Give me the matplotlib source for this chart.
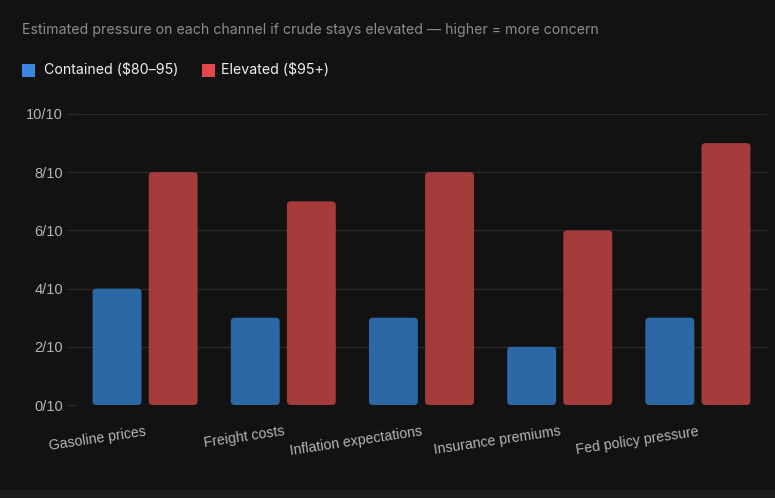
import matplotlib
matplotlib.use("Agg")
import matplotlib.pyplot as plt
from matplotlib.patches import FancyBboxPatch, Rectangle
from matplotlib.transforms import IdentityTransform
import numpy as np

# data
categories = ["Gasoline prices", "Freight costs", "Inflation expectations",
              "Insurance premiums", "Fed policy pressure"]
contained = [4, 3, 3, 2, 3]
elevated = [8, 7, 8, 6, 9]
y_ticks = [0, 2, 4, 6, 8, 10]
y_labels = [f"{v}/10" for v in y_ticks]

BG = "#121212"
OUTER = "#1d1d1d"
GRID = "#2a2a2a"
BLUE_BAR = "#2c68a6"
RED_BAR = "#a63b3c"
BLUE_KEY = "#3b86e0"
RED_KEY = "#e2484a"

W, H = 775, 498
fig = plt.figure(figsize=(W / 100, H / 100), dpi=100)
fig.patch.set_facecolor(OUTER)

# card background with rounded corners
card = FancyBboxPatch((-20, 8), W + 40, H, boxstyle="round,pad=0,rounding_size=10",
                      transform=IdentityTransform(), facecolor=BG, edgecolor="none",
                      zorder=-10)
fig.patches.append(card)

ax = fig.add_axes([76 / W, 1 - 405 / H, (767 - 76) / W, (405 - 114) / H])
ax.set_facecolor("none")

x = np.arange(len(categories))
bw = 0.354
off = 0.203
bars_b = ax.bar(x - off, contained, bw, color=BLUE_BAR, zorder=3)
bars_r = ax.bar(x + off, elevated, bw, color=RED_BAR, zorder=3)

ax.set_xlim(-0.5, len(categories) - 0.5)
ax.set_ylim(0, 10)

# swap plain bars for rounded ones
px_x = (767 - 76) / len(categories)
px_y = (405 - 114) / 10
aspect = px_x / px_y
for b in list(bars_b) + list(bars_r):
    fb = FancyBboxPatch((b.get_x(), b.get_y()), b.get_width(), b.get_height(),
                        boxstyle=f"round,pad=0,rounding_size={4 / px_x}",
                        mutation_aspect=aspect, facecolor=b.get_facecolor(),
                        edgecolor="none", zorder=3)
    b.set_visible(False)
    ax.add_patch(fb)

ax.set_yticks(y_ticks)
ax.set_yticklabels(y_labels)
ax.grid(axis="y", color=GRID, linewidth=1, zorder=0)
for s in ax.spines.values():
    s.set_visible(False)
ax.tick_params(axis="y", length=6.5, width=1, color=GRID, pad=3,
               labelcolor="#b4b4b4", labelsize=10.5)
for t in ax.get_yticklabels():
    t.set_fontfamily(["Liberation Sans", "DejaVu Sans"])

ax.set_xticks(x)
ax.set_xticklabels(categories, rotation=8.5, ha="right", va="top",
                   rotation_mode="anchor", fontsize=10.2,
                   family=["Liberation Sans", "DejaVu Sans"], color="#b4b4b4")
ax.tick_params(axis="x", length=0, pad=14)

# title and legend
fig.text(22 / W, 1 - 30 / H, "Estimated pressure on each channel if crude stays elevated \u2014 higher = more concern",
         color="#8c8c8c", fontsize=10.2, family=["Inter", "DejaVu Sans"], va="center", ha="left")

ly = 1 - 70 / H
fig.patches.append(Rectangle((22, H - 77), 13, 13, transform=IdentityTransform(),
                             facecolor=BLUE_KEY, edgecolor="none"))
fig.text(44 / W, ly, "Contained ($80\u201395)", color="#f0f0f0", fontsize=10.2,
         family=["Inter", "DejaVu Sans"], va="center", ha="left")
fig.patches.append(Rectangle((202, H - 77), 13, 13, transform=IdentityTransform(),
                             facecolor=RED_KEY, edgecolor="none"))
fig.text(221 / W, ly, "Elevated ($95+)", color="#f0f0f0", fontsize=10.2,
         family=["Inter", "DejaVu Sans"], va="center", ha="left")

fig.savefig("out.png", dpi=100, facecolor=fig.get_facecolor())
